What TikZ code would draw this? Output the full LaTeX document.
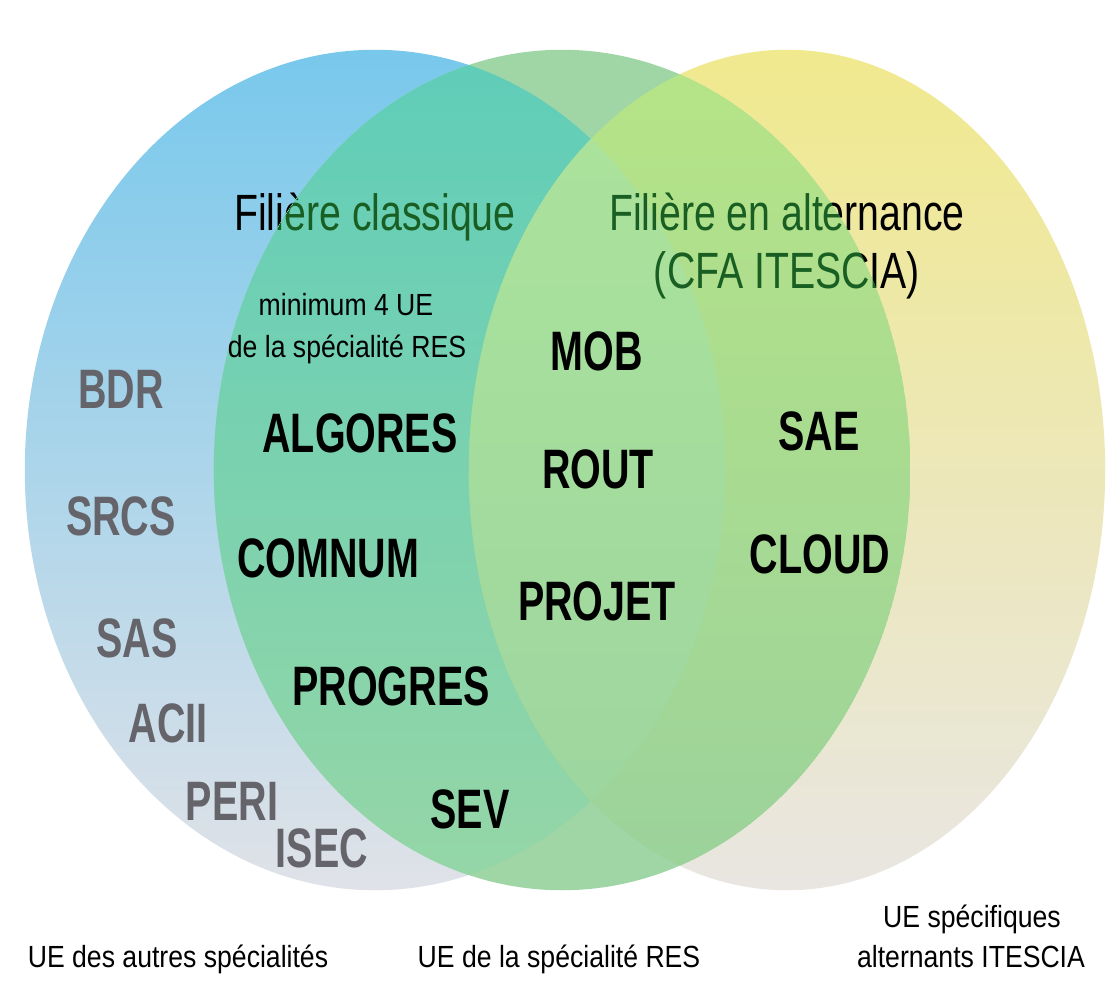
\documentclass[tikz,border=0pt]{standalone}
\usepackage{fontspec}
\setmainfont{Liberation Sans}
\newfontfamily\labfont{Liberation Sans}[FakeStretch=0.71]
\newfontfamily\headfont{Liberation Sans}[FakeStretch=0.77]
\newfontfamily\notefont{Liberation Sans}[FakeStretch=0.87]
\usetikzlibrary{positioning}

\definecolor{bluetop}{RGB}{120,200,236}
\definecolor{bluemid}{RGB}{185,212,228}
\definecolor{bluebot}{RGB}{224,226,232}
\definecolor{yeltop}{RGB}{240,233,142}
\definecolor{yelmid}{RGB}{227,224,200}
\definecolor{yelbot}{RGB}{233,230,226}
\definecolor{greenonly}{RGB}{160,214,166}
\definecolor{tealtop}{RGB}{95,205,185}
\definecolor{tealmid}{RGB}{120,208,170}
\definecolor{tealbot}{RGB}{150,214,166}
\definecolor{limetop}{RGB}{182,228,135}
\definecolor{limemid}{RGB}{160,220,145}
\definecolor{limebot}{RGB}{155,210,155}
\definecolor{paletop}{RGB}{172,228,155}
\definecolor{palemid}{RGB}{166,224,154}
\definecolor{palebot}{RGB}{156,212,160}
\definecolor{headgreen}{RGB}{25,95,35}
\definecolor{othergray}{RGB}{100,100,106}

% the three sets
\def\bluecirc{(375,-470) ellipse [x radius=3.5cm, y radius=4.2cm]}
\def\greencirc{(562,-470) ellipse [x radius=3.48cm, y radius=4.2cm]}
\def\yelcirc{(787,-470) ellipse [x radius=3.18cm, y radius=4.2cm]}

\tikzset{
        x=0.01cm, y=0.01cm, % one unit = one pixel of the slide
        ue/.style={font=\labfont\bfseries\fontsize{15.8}{16}\selectfont, anchor=base, inner sep=0pt}, % UE of the speciality
        other/.style={ue, text=othergray}, % UE of the other specialities
        head/.style={font=\headfont\fontsize{14.5}{15}\selectfont, anchor=base, inner sep=0pt}, % the two tracks
        note/.style={font=\notefont\fontsize{8.7}{9}\selectfont, anchor=base, inner sep=0pt}, % small captions
    }

\begin{document}
\begin{tikzpicture}
    \useasboundingbox (0,0) rectangle (1109,-1000);
    \fill[white] (0,0) rectangle (1109,-1000);

    \shade[top color=bluetop, middle color=bluemid, bottom color=bluebot] \bluecirc;
    \shade[top color=yeltop, middle color=yelmid, bottom color=yelbot] \yelcirc;

    \node[head] (classique) at (375,-230) {Filière classique};
    \node[head] (alternance) at (787,-230) {Filière en alternance};
    \node[head] (cfa) at (787,-288) {(CFA ITESCIA)};

    \begin{scope}
      \clip \greencirc;
      \fill[greenonly] \greencirc;
      \begin{scope}
        \clip \bluecirc;
        \shade[top color=tealtop, middle color=tealmid, bottom color=tealbot] \bluecirc;
      \end{scope}
      \begin{scope}
        \clip \yelcirc;
        \shade[top color=limetop, middle color=limemid, bottom color=limebot] \yelcirc;
        \clip \bluecirc;
        \shade[top color=paletop, middle color=palemid, bottom color=palebot] \yelcirc;
      \end{scope}
      % same titles, tinted by the green set
      \node[head, text=headgreen] (classique-g) at (375,-230) {Filière classique};
      \node[head, text=headgreen] (alternance-g) at (787,-230) {Filière en alternance};
      \node[head, text=headgreen] (cfa-g) at (787,-288) {(CFA ITESCIA)};
    \end{scope}

    \node[note] (minimum) at (346,-315) {minimum 4 UE};
    \node[note] (spec) at (347,-357) {de la spécialité RES};

    \node[ue] (mob) at (597,-370) {MOB};
    \node[ue] (algores) at (360,-452) {ALGORES};
    \node[ue] (rout) at (598,-488) {ROUT};
    \node[ue] (sae) at (819,-450) {SAE};
    \node[ue] (comnum) at (328,-577) {COMNUM};
    \node[ue] (cloud) at (820,-573) {CLOUD};
    \node[ue] (projet) at (597,-620) {PROJET};
    \node[ue] (progres) at (391,-705) {PROGRES};
    \node[ue] (sev) at (470,-828) {SEV};

    \node[other] (bdr) at (121,-408) {BDR};
    \node[other] (srcs) at (121,-535) {SRCS};
    \node[other] (sas) at (137,-657) {SAS};
    \node[other] (acii) at (168,-742) {ACII};
    \node[other] (peri) at (232,-820) {PERI};
    \node[other] (isec) at (322,-867) {ISEC};

    \node[note] (autres) at (178,-967) {UE des autres spécialités};
    \node[note] (res) at (559,-967) {UE de la spécialité RES};
    \node[note] (specif) at (972,-927) {UE spécifiques};
    \node[note] (itescia) at (971,-967) {alternants ITESCIA};
\end{tikzpicture}
\end{document}
